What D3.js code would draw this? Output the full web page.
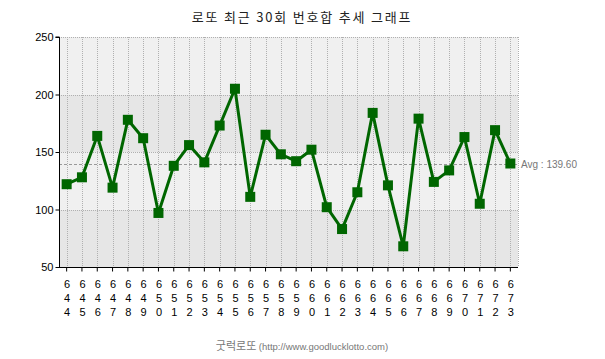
<!DOCTYPE html>
<html><head><meta charset="utf-8">
<script src="https://cdn.jsdelivr.net/npm/d3@7/dist/d3.min.js"></script>
<style>body{margin:0;background:#fff;}svg{display:block;}</style>
</head><body>
<svg id="c" width="605" height="359"></svg>
<script>
const draws = [644,645,646,647,648,649,650,651,652,653,654,655,656,657,658,659,660,661,662,663,664,665,666,667,668,669,670,671,672,673];
const sums = [122,128,164,119,178,162,97,138,156,141,173,205,111,165,148,142,152,102,83,115,184,121,68,179,124,134,163,105,169,140];
const yTicks = [50,100,150,200,250];
const avgValue = 139.60;
const title = "로또 최근 30회 번호합 추세 그래프";
const footerKo = "굿럭로또";
const footerUrl = "(http://www.goodlucklotto.com)";

const svg = d3.select("#c");
const L = 59, R = 518, T = 37, B = 267;
const x = d3.scaleBand().domain(draws).range([L, R]).padding(0);
const y = d3.scaleLinear().domain([50, 250]).range([B, T]);
const cx = d => x(d) + x.bandwidth() / 2;

// background bands
const bands = d3.pairs(yTicks);
svg.selectAll("rect.band").data(bands).enter().append("rect")
  .attr("x", L).attr("width", R - L)
  .attr("y", d => y(d[1])).attr("height", d => y(d[0]) - y(d[1]))
  .attr("fill", (d, i) => i % 2 === 0 ? "#e6e6e6" : "#f0f0f0");

// grid
const grid = svg.append("g").attr("stroke", "#b0b0b0").attr("stroke-dasharray", "1,1").attr("shape-rendering", "crispEdges");
grid.selectAll("line.v").data(draws).enter().append("line")
  .attr("x1", d => Math.round(cx(d)) + 0.5).attr("x2", d => Math.round(cx(d)) + 0.5)
  .attr("y1", T).attr("y2", B);
grid.selectAll("line.h").data(yTicks.slice(1)).enter().append("line")
  .attr("x1", L).attr("x2", R).attr("y1", d => Math.round(y(d)) + 0.5).attr("y2", d => Math.round(y(d)) + 0.5);
grid.append("line").attr("x1", R + 0.5).attr("x2", R + 0.5).attr("y1", T).attr("y2", B);

// avg line
svg.append("line").attr("x1", L).attr("x2", R)
  .attr("y1", Math.round(y(avgValue)) + 0.5).attr("y2", Math.round(y(avgValue)) + 0.5)
  .attr("stroke", "#999").attr("stroke-dasharray", "3,2").attr("shape-rendering", "crispEdges");
svg.append("text").attr("x", R + 3).attr("y", y(avgValue) + 4)
  .attr("font-family", "Liberation Sans, Arial, sans-serif").attr("font-size", 10)
  .attr("fill", "#777").text("Avg : " + avgValue.toFixed(2));

// axes
const yAxis = d3.axisLeft(y).tickValues(yTicks).tickSize(4).tickPadding(2);
const gy = svg.append("g").attr("transform", `translate(${L + 0.5},0)`).call(yAxis);
gy.select(".domain").attr("stroke", "#000").attr("d", `M-4,${T}H0V${B}`);
gy.selectAll("text").attr("font-family", "Liberation Sans, Arial, sans-serif").attr("font-size", 11).attr("fill", "#000");

const xAxis = d3.axisBottom(x).tickSize(4).tickFormat("");
const gx = svg.append("g").attr("transform", `translate(0,${B + 0.5})`).call(xAxis);
gx.select(".domain").attr("stroke", "#000").attr("d", `M${L},0H${R}`);
gx.selectAll(".tick line").attr("stroke", "#000");
gx.selectAll(".tick").each(function(d) {
  const s = String(d).split("");
  const t = d3.select(this).append("text").attr("fill", "#000")
    .attr("font-family", "Liberation Sans, Arial, sans-serif").attr("font-size", 11).attr("text-anchor", "middle");
  s.forEach((ch, i) => t.append("tspan").attr("x", 0.5).attr("y", 20 + i * 14).text(ch));
});

// line
const line = d3.line().x((d, i) => cx(draws[i])).y(d => y(d));
svg.append("path").datum(sums).attr("d", line).attr("fill", "none")
  .attr("stroke", "#006600").attr("stroke-width", 3).attr("stroke-linejoin", "round");
svg.selectAll("rect.pt").data(sums).enter().append("rect")
  .attr("x", (d, i) => cx(draws[i]) - 5).attr("y", d => y(d) - 5)
  .attr("width", 10).attr("height", 10).attr("fill", "#006600");

// title & footer
svg.append("text").attr("x", 302).attr("y", 22).attr("text-anchor", "middle")
  .attr("font-family", "Noto Sans CJK KR, sans-serif").attr("font-size", 13)
  .attr("letter-spacing", 1.8).attr("fill", "#222").text(title);
const ft = svg.append("text").attr("x", 302).attr("y", 350).attr("text-anchor", "middle").attr("fill", "#777");
ft.append("tspan").attr("font-family", "Noto Sans CJK KR, sans-serif").attr("font-size", 11).text(footerKo + " ");
ft.append("tspan").attr("font-family", "Liberation Sans, Arial, sans-serif").attr("font-size", 9.5).text(footerUrl);
</script>
</body></html>
